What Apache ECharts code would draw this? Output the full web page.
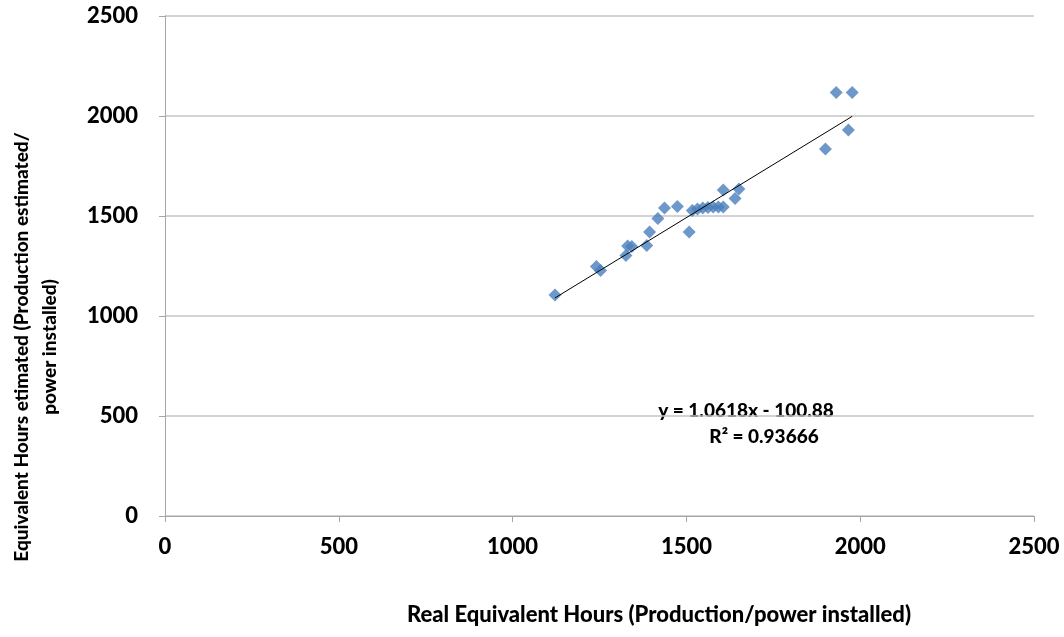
<!DOCTYPE html>
<html>
<head>
<meta charset="utf-8">
<script src="https://cdn.jsdelivr.net/npm/echarts@6/dist/echarts.min.js"></script>
<style>
  html, body { margin: 0; padding: 0; background: #fff; }
  #chart { width: 1064px; height: 637px; }
</style>
</head>
<body>
<div id="chart"></div>
<script>
// Real equivalent hours vs. estimated equivalent hours per installation
const realHours = [1122, 1241, 1253, 1326, 1331, 1343, 1386, 1394, 1418, 1437, 1474, 1508,
  1517, 1532, 1547, 1562, 1577, 1592, 1606, 1606, 1640, 1651, 1900, 1931, 1966, 1977];
const estimatedHours = [1105, 1247, 1227, 1302, 1350, 1347, 1353, 1420, 1488, 1540, 1547, 1420,
  1528, 1535, 1540, 1543, 1545, 1545, 1545, 1630, 1588, 1635, 1835, 2117, 1930, 2117];

// Linear trend: y = slope * x + intercept
const slope = 1.0618;
const intercept = -100.88;
const rSquared = '0.93666';

const axisTicks = [0, 500, 1000, 1500, 2000, 2500];

const FONT = 'Lato';
const FW = 900;
const FS = 22;
const xMin = Math.min(...realHours);
const xMax = Math.max(...realHours);
const trendLine = [
  [xMin, slope * xMin + intercept],
  [xMax, slope * xMax + intercept]
];

const labelStyle = { color: '#000', fontFamily: FONT, fontWeight: FW, fontSize: FS, formatter: v => String(v) };

const chart = echarts.init(document.getElementById('chart'));
chart.setOption({
  animation: false,
  backgroundColor: '#ffffff',
  grid: { left: 165, right: 30, top: 16, bottom: 121 },
  xAxis: {
    type: 'value',
    min: axisTicks[0],
    max: axisTicks[axisTicks.length - 1],
    interval: 500,
    axisLine: { show: true, lineStyle: { color: '#a6a6a6', width: 1 } },
    axisTick: { show: true, length: 6, lineStyle: { color: '#a6a6a6' } },
    splitLine: { show: false },
    axisLabel: Object.assign({ margin: 20 }, labelStyle)
  },
  yAxis: {
    type: 'value',
    min: axisTicks[0],
    max: axisTicks[axisTicks.length - 1],
    interval: 500,
    axisLine: { show: true, lineStyle: { color: '#a6a6a6', width: 1 } },
    axisTick: { show: true, length: 6, lineStyle: { color: '#a6a6a6' } },
    splitLine: { show: true, lineStyle: { color: '#c4c4c4', width: 1.5 } },
    axisLabel: Object.assign({ margin: 27 }, labelStyle)
  },
  series: [
    {
      type: 'scatter',
      data: realHours.map((x, i) => [x, estimatedHours[i]]),
      symbol: 'diamond',
      symbolSize: 13,
      itemStyle: { color: '#4a7ebb' },
      z: 3
    },
    {
      type: 'line',
      data: trendLine,
      symbol: 'none',
      lineStyle: { color: '#000', width: 1 },
      z: 4
    }
  ],
  graphic: [
    {
      type: 'text',
      style: {
        text: 'y = ' + slope + 'x - ' + Math.abs(intercept).toFixed(2),
        x: 746, y: 411, align: 'center', verticalAlign: 'middle',
        fontFamily: FONT, fontWeight: FW, fontSize: 19, fill: '#000'
      }
    },
    {
      type: 'text',
      style: {
        text: 'R² = ' + rSquared,
        x: 764, y: 437, align: 'center', verticalAlign: 'middle',
        fontFamily: FONT, fontWeight: FW, fontSize: 19, fill: '#000'
      }
    },
    {
      type: 'text',
      style: {
        text: 'Real Equivalent Hours (Production/power installed)',
        x: 659, y: 615, align: 'center', verticalAlign: 'middle',
        fontFamily: FONT, fontWeight: FW, fontSize: FS, fill: '#000'
      }
    },
    {
      type: 'text',
      x: 36, y: 347, rotation: Math.PI / 2,
      style: {
        text: 'Equivalent Hours etimated (Production estimated/\npower installed)',
        x: 0, y: 0, align: 'center', verticalAlign: 'middle', lineHeight: 28,
        fontFamily: FONT, fontWeight: FW, fontSize: 19, fill: '#000'
      }
    }
  ]
});
</script>
</body>
</html>
